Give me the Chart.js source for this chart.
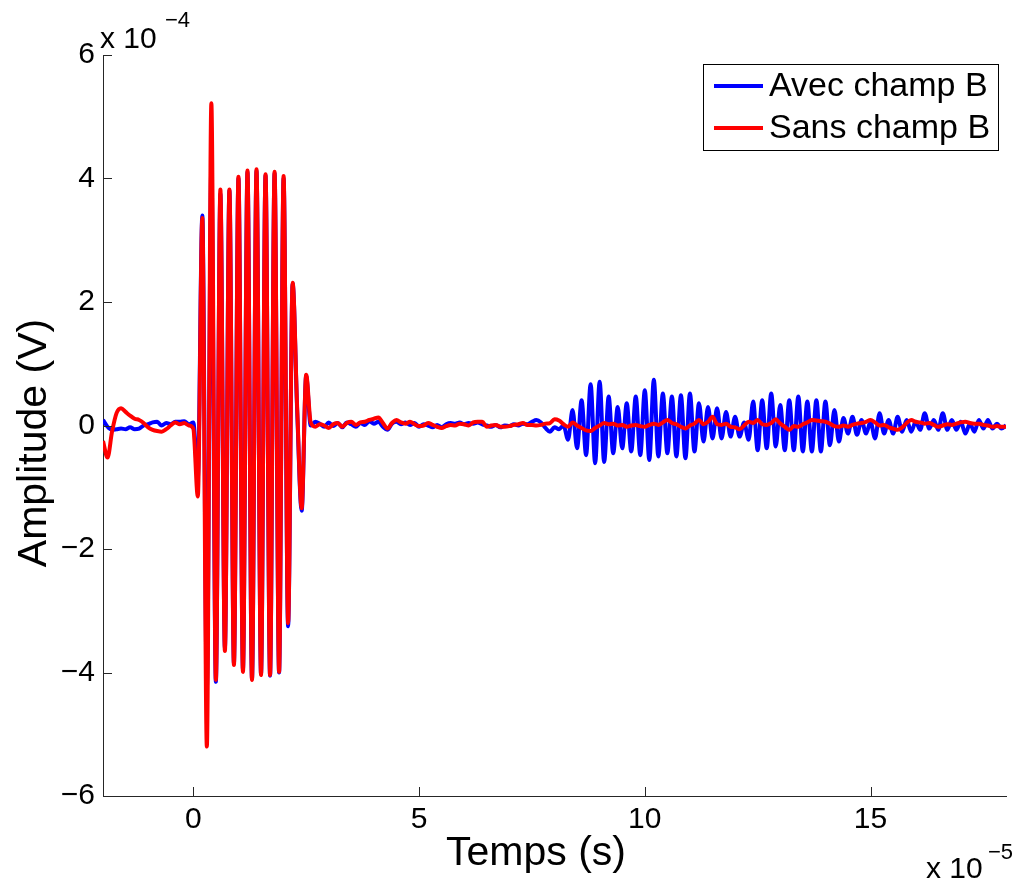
<!DOCTYPE html>
<html lang="fr">
<head>
    <meta charset="UTF-8">
    <title>Amplitude vs Temps</title>
    <script src="https://cdn.jsdelivr.net/npm/chart.js"></script>
    <style>
        body { margin: 0; background: #fff; }
    </style>
</head>
<body>
    <canvas id="signal-chart" width="1021" height="884"></canvas>
    <script>
        // time in units of 1e-5 s, amplitude in units of 1e-4 V (as on the axes)
        const temps = [
            -2.0, -1.9, -1.8, -1.7, -1.6, -1.5, -1.4, -1.3, -1.2, -1.1,
            -1.0, -0.9, -0.8, -0.7, -0.6, -0.5, -0.4, -0.3, -0.2, -0.1,
            0.0, 0.1, 0.2, 0.3, 0.4, 0.5, 0.6, 0.7, 0.8, 0.9,
            1.0, 1.1, 1.2, 1.3, 1.4, 1.5, 1.6, 1.7, 1.8, 1.9,
            2.0, 2.1, 2.2, 2.3, 2.4, 2.5, 2.6, 2.7, 2.8, 2.9,
            3.0, 3.1, 3.2, 3.3, 3.4, 3.5, 3.6, 3.7, 3.8, 3.9,
            4.0, 4.1, 4.2, 4.3, 4.4, 4.5, 4.6, 4.7, 4.8, 4.9,
            5.0, 5.1, 5.2, 5.3, 5.4, 5.5, 5.6, 5.7, 5.8, 5.9,
            6.0, 6.1, 6.2, 6.3, 6.4, 6.5, 6.6, 6.7, 6.8, 6.9,
            7.0, 7.1, 7.2, 7.3, 7.4, 7.5, 7.6, 7.7, 7.8, 7.9,
            8.0, 8.1, 8.2, 8.3, 8.4, 8.5, 8.6, 8.7, 8.8, 8.9,
            9.0, 9.1, 9.2, 9.3, 9.4, 9.5, 9.6, 9.7, 9.8, 9.9,
            10.0, 10.1, 10.2, 10.3, 10.4, 10.5, 10.6, 10.7, 10.8, 10.9,
            11.0, 11.1, 11.2, 11.3, 11.4, 11.5, 11.6, 11.7, 11.8, 11.9,
            12.0, 12.1, 12.2, 12.3, 12.4, 12.5, 12.6, 12.7, 12.8, 12.9,
            13.0, 13.1, 13.2, 13.3, 13.4, 13.5, 13.6, 13.7, 13.8, 13.9,
            14.0, 14.1, 14.2, 14.3, 14.4, 14.5, 14.6, 14.7, 14.8, 14.9,
            15.0, 15.1, 15.2, 15.3, 15.4, 15.5, 15.6, 15.7, 15.8, 15.9,
            16.0, 16.1, 16.2, 16.3, 16.4, 16.5, 16.6, 16.7, 16.8, 16.9,
            17.0, 17.1, 17.2, 17.3, 17.4, 17.5, 17.6, 17.7, 17.8, 17.9,
            18.0
        ];

        const avecChamp = [
            0.09, -0.02, -0.07, -0.06, -0.05, -0.06, -0.03, -0.06, -0.05, 0.00,
            0.02, 0.05, 0.06, 0.00, 0.04, 0.02, 0.06, 0.06, 0.07, 0.02,
            0.05, -0.85, 3.40, -4.25, 4.20, -4.15, 3.75, -3.60, 3.80, -3.85,
            4.00, -3.95, 4.10, -4.10, 4.12, -4.02, 4.05, -4.05, 4.08, -4.00,
            4.00, -3.25, 2.30, 0.25, -1.38, 0.80, 0.00, 0.06, 0.03, -0.02,
            0.05, -0.01, 0.04, -0.03, 0.05, 0.02, -0.02, 0.04, 0.01, 0.07,
            0.03, 0.06, -0.02, -0.07, 0.03, 0.06, 0.02, 0.05, 0.01, 0.04,
            -0.02, 0.02, 0.00, -0.03, 0.01, -0.03, 0.02, 0.04, 0.03, 0.05,
            0.02, 0.04, 0.03, 0.05, 0.02, 0.00, -0.02, 0.01, -0.03, 0.00,
            -0.01, 0.02, 0.00, 0.03, 0.02, 0.06, 0.09, 0.05, -0.04, -0.10,
            -0.03, -0.06, 0.00, -0.23, 0.25, -0.37, 0.41, -0.48, 0.67, -0.61,
            0.71, -0.59, 0.47, -0.45, 0.30, -0.37, 0.36, -0.42, 0.47, -0.48,
            0.57, -0.56, 0.74, -0.50, 0.52, -0.45, 0.47, -0.50, 0.49, -0.53,
            0.52, -0.42, 0.36, -0.26, 0.30, -0.21, 0.28, -0.21, 0.22, -0.18,
            0.14, -0.18, 0.05, -0.23, 0.39, -0.40, 0.41, -0.37, 0.52, -0.34,
            0.33, -0.40, 0.41, -0.40, 0.47, -0.42, 0.39, -0.42, 0.41, -0.42,
            0.39, -0.32, 0.25, -0.26, 0.12, -0.13, 0.14, -0.15, 0.09, -0.13,
            0.06, -0.21, 0.20, -0.13, 0.09, -0.13, 0.14, -0.10, 0.09, -0.10,
            0.06, -0.07, 0.20, -0.05, 0.09, -0.07, 0.20, -0.07, 0.09, -0.07,
            0.06, -0.13, 0.03, -0.10, 0.09, -0.05, 0.09, -0.05, 0.03, -0.05,
            0.00
        ];

        const sansChamp = [
            -0.25, -0.52, -0.10, 0.20, 0.28, 0.22, 0.16, 0.11, 0.09, 0.04,
            -0.03, -0.07, -0.09, -0.10, -0.06, 0.00, 0.05, 0.02, 0.04, 0.00,
            -0.05, -1.15, 3.36, -5.20, 5.22, -4.12, 3.82, -3.65, 3.82, -3.88,
            4.03, -3.99, 4.13, -4.12, 4.15, -4.04, 4.07, -4.04, 4.11, -3.99,
            4.04, -3.20, 2.31, 0.30, -1.34, 0.82, 0.05, -0.02, 0.02, 0.00,
            -0.04, 0.02, 0.04, -0.02, 0.04, 0.06, 0.01, 0.05, 0.06, 0.09,
            0.11, 0.13, 0.04, -0.05, 0.04, 0.09, 0.05, 0.03, 0.06, 0.02,
            -0.01, 0.00, 0.04, 0.01, -0.02, -0.04, -0.01, 0.01, 0.00, 0.03,
            0.02, 0.00, 0.05, 0.06, 0.06, -0.02, 0.00, 0.01, -0.02, -0.02,
            -0.01, 0.01, 0.02, 0.04, 0.01, 0.01, 0.00, 0.01, 0.03, 0.04,
            0.10, 0.08, 0.02, -0.02, 0.05, 0.00, -0.04, -0.08, -0.09, -0.04,
            0.00, 0.04, 0.02, 0.03, 0.00, 0.01, -0.02, 0.00, 0.01, -0.01,
            -0.02, 0.01, 0.03, 0.01, 0.05, 0.09, 0.04, 0.02, -0.02, -0.05,
            0.00, 0.03, 0.09, 0.02, 0.06, 0.14, 0.02, 0.01, 0.03, -0.02,
            -0.03, -0.06, 0.00, 0.06, 0.04, 0.09, 0.02, 0.01, 0.04, 0.10,
            0.03, -0.02, -0.07, -0.01, -0.02, 0.02, 0.05, 0.09, 0.08, 0.07,
            0.06, 0.03, -0.01, -0.02, 0.00, -0.02, 0.01, 0.03, 0.04, 0.06,
            0.09, 0.05, 0.00, 0.01, -0.03, -0.05, -0.07, -0.03, 0.04, 0.09,
            0.06, 0.05, 0.03, 0.04, 0.01, -0.02, 0.00, 0.02, 0.01, 0.03,
            0.05, 0.06, 0.04, 0.03, 0.03, 0.01, 0.00, -0.02, -0.01, -0.02,
            -0.02
        ];

        const xTicks = [0, 5, 10, 15];
        const yTicks = [-6, -4, -2, 0, 2, 4, 6];
        const seriesNames = ['Avec champ B', 'Sans champ B'];

        const FONT = '"Liberation Sans", Arial, Helvetica, sans-serif';
        const fmt = v => (v < 0 ? '\u2212' + Math.abs(v) : String(v));

        // MATLAB-like extras: inward ticks, exponents, axis labels, legend box
        const matlabDecor = {
            id: 'matlabDecor',
            afterDraw(chart) {
                const c = chart.ctx;
                const xs = chart.scales.x, ys = chart.scales.y;
                const a = chart.chartArea;
                c.save();
                c.strokeStyle = '#262626';
                c.lineWidth = 1;
                xTicks.forEach(v => {
                    const px = Math.round(xs.getPixelForValue(v)) + 0.5;
                    c.beginPath(); c.moveTo(px, a.bottom); c.lineTo(px, a.bottom - 9); c.stroke();
                });
                yTicks.forEach(v => {
                    const py = Math.round(ys.getPixelForValue(v)) + 0.5;
                    c.beginPath(); c.moveTo(a.left, py); c.lineTo(a.left + 9, py); c.stroke();
                });

                c.fillStyle = '#000';
                c.textAlign = 'left';
                c.textBaseline = 'alphabetic';
                // exponents
                c.font = '30px ' + FONT;
                c.fillText('x 10', 100, 48);
                c.fillText('x 10', 926, 878);
                c.font = '22px ' + FONT;
                c.fillText('\u22124', 165, 27);
                c.fillText('\u22125', 988, 859);

                // axis titles
                c.font = '41px ' + FONT;
                c.textAlign = 'center';
                c.fillText('Temps (s)', 536, 865);
                c.save();
                c.translate(46, 443);
                c.rotate(-Math.PI / 2);
                c.fillText('Amplitude (V)', 0, 0);
                c.restore();

                // legend
                c.fillStyle = '#fff';
                c.fillRect(703, 64, 296, 87);
                c.strokeStyle = '#000';
                c.strokeRect(703.5, 64.5, 295, 86);
                const legendColors = ['#0000ff', '#ff0000'];
                c.font = '34px ' + FONT;
                c.textAlign = 'left';
                c.textBaseline = 'middle';
                seriesNames.forEach((name, i) => {
                    const y = 86 + i * 42;
                    c.strokeStyle = legendColors[i];
                    c.lineWidth = 4;
                    c.beginPath(); c.moveTo(714, y); c.lineTo(763, y); c.stroke();
                    c.fillStyle = '#000';
                    c.fillText(name, 769, y + 1);
                });
                c.restore();
            }
        };

        const ctx = document.getElementById('signal-chart').getContext('2d');
        new Chart(ctx, {
            type: 'line',
            data: {
                datasets: [
                    {
                        label: seriesNames[1],
                        data: temps.map((t, i) => ({ x: t, y: sansChamp[i] })),
                        borderColor: '#ff0000',
                        order: 1
                    },
                    {
                        label: seriesNames[0],
                        data: temps.map((t, i) => ({ x: t, y: avecChamp[i] })),
                        borderColor: '#0000ff',
                        order: 2
                    }
                ]
            },
            options: {
                responsive: false,
                animation: false,
                devicePixelRatio: 1,
                elements: {
                    point: { radius: 0 },
                    line: { borderWidth: 4, cubicInterpolationMode: 'monotone', fill: false }
                },
                layout: { padding: { top: 55, right: 15, left: 0, bottom: 0 } },
                plugins: { legend: { display: false }, tooltip: { enabled: false } },
                scales: {
                    x: {
                        type: 'linear',
                        min: -2,
                        max: 18,
                        afterBuildTicks: s => { s.ticks = xTicks.map(v => ({ value: v })); },
                        afterFit: s => { s.height = 88; },
                        grid: { display: false, drawTicks: false },
                        border: { display: true, color: '#262626', width: 1 },
                        ticks: { color: '#000', padding: 6, font: { family: FONT, size: 30 }, callback: v => fmt(v) }
                    },
                    y: {
                        type: 'linear',
                        min: -6,
                        max: 6,
                        afterBuildTicks: s => { s.ticks = yTicks.map(v => ({ value: v })); },
                        afterFit: s => { s.width = 103; },
                        grid: { display: false, drawTicks: false },
                        border: { display: true, color: '#262626', width: 1 },
                        ticks: { color: '#000', padding: 8, font: { family: FONT, size: 30 }, callback: v => fmt(v) }
                    }
                }
            },
            plugins: [matlabDecor]
        });
    </script>
</body>
</html>
